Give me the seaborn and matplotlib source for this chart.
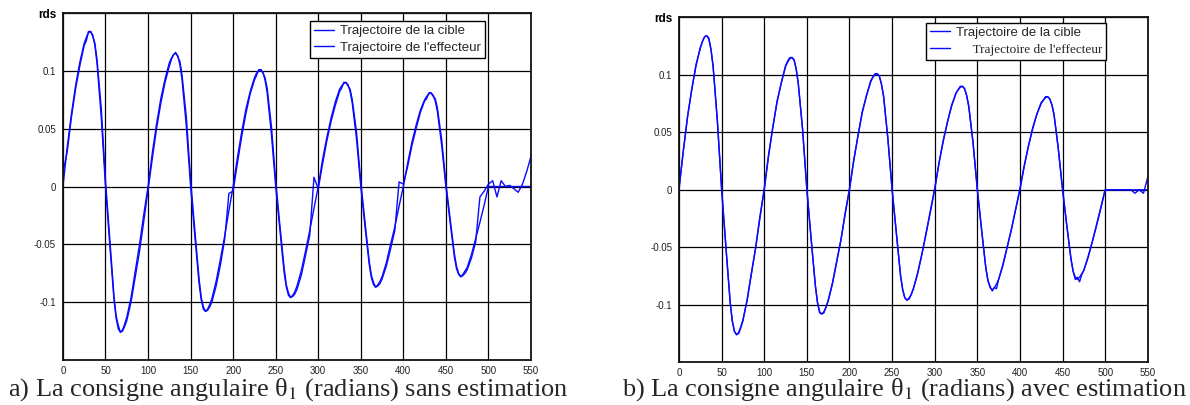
import matplotlib
matplotlib.use("Agg")
import matplotlib.pyplot as plt
import seaborn as sns
import pandas as pd

# ---------------- data ----------------
# sample offsets inside each 100-step oscillation cycle (extra samples near extrema)
cycle_offsets = [0, 5, 10, 15, 20, 25, 27.5, 30, 32.5, 35, 37.5, 40, 45,
                 50, 55, 60, 62.5, 65, 67.5, 70, 72.5, 75, 80, 85, 90, 95]
cycle_starts = [0, 100, 200, 300, 400]
tail_x = [500, 505, 510, 515, 520, 525, 530, 535, 540, 545, 550]
x_vals = [s + o for s in cycle_starts for o in cycle_offsets] + tail_x

target = [
    # 0-100
    0.000, 0.034, 0.063, 0.088, 0.108, 0.124, 0.129, 0.133, 0.134, 0.131, 0.122, 0.107, 0.060,
    0.000, -0.050, -0.098, -0.114, -0.123, -0.126, -0.124, -0.119, -0.113, -0.096, -0.073, -0.050, -0.024,
    # 100-200
    0.000, 0.029, 0.054, 0.076, 0.093, 0.107, 0.111, 0.114, 0.115, 0.113, 0.105, 0.092, 0.052,
    0.000, -0.043, -0.084, -0.098, -0.106, -0.108, -0.106, -0.102, -0.097, -0.082, -0.063, -0.043, -0.021,
    # 200-300
    0.000, 0.025, 0.047, 0.067, 0.082, 0.094, 0.098, 0.100, 0.101, 0.099, 0.092, 0.081, 0.045,
    0.000, -0.038, -0.075, -0.087, -0.094, -0.096, -0.094, -0.091, -0.086, -0.073, -0.056, -0.038, -0.019,
    # 300-400
    0.000, 0.023, 0.042, 0.059, 0.073, 0.084, 0.087, 0.089, 0.090, 0.088, 0.082, 0.072, 0.041,
    0.000, -0.035, -0.068, -0.079, -0.085, -0.087, -0.085, -0.082, -0.078, -0.066, -0.050, -0.035, -0.017,
    # 400-500
    0.000, 0.020, 0.038, 0.053, 0.066, 0.075, 0.078, 0.080, 0.081, 0.079, 0.074, 0.065, 0.036,
    0.000, -0.031, -0.061, -0.071, -0.076, -0.078, -0.076, -0.073, -0.070, -0.059, -0.045, -0.031, -0.016,
    # 500-550
    0.000, 0.000, 0.000, 0.000, 0.000, 0.000, 0.000, 0.000, 0.000, 0.000, 0.000,
]

effector_a = [
    0.012, 0.030, 0.060, 0.085, 0.105, 0.122, 0.126, 0.134, 0.134, 0.130, 0.124, 0.110, 0.068,
    0.005, -0.045, -0.095, -0.112, -0.120, -0.126, -0.125, -0.121, -0.116, -0.100, -0.078, -0.056, -0.030,
    -0.003, 0.024, 0.050, 0.072, 0.090, 0.104, 0.110, 0.114, 0.116, 0.112, 0.108, 0.096, 0.060,
    0.006, -0.038, -0.080, -0.096, -0.104, -0.108, -0.107, -0.104, -0.100, -0.086, -0.068, -0.046, -0.006,
    -0.004, 0.020, 0.043, 0.063, 0.080, 0.092, 0.096, 0.101, 0.101, 0.098, 0.094, 0.085, 0.052,
    0.005, -0.034, -0.071, -0.085, -0.092, -0.096, -0.095, -0.093, -0.089, -0.077, -0.060, -0.042, 0.008,
    -0.002, 0.019, 0.039, 0.056, 0.070, 0.082, 0.085, 0.090, 0.090, 0.087, 0.084, 0.075, 0.047,
    0.004, -0.031, -0.065, -0.077, -0.083, -0.087, -0.086, -0.084, -0.080, -0.069, -0.054, -0.038, 0.004,
    0.002, 0.017, 0.035, 0.050, 0.064, 0.074, 0.076, 0.081, 0.081, 0.078, 0.076, 0.068, 0.041,
    0.003, -0.028, -0.058, -0.069, -0.075, -0.078, -0.077, -0.075, -0.072, -0.062, -0.048, -0.009, -0.004,
    0.002, 0.005, -0.009, 0.005, 0.000, 0.001, -0.002, -0.005, 0.002, 0.013, 0.026,
]

effector_b = [
    0.002, 0.033, 0.064, 0.087, 0.109, 0.123, 0.129, 0.133, 0.134, 0.132, 0.122, 0.108, 0.060,
    0.001, -0.049, -0.097, -0.114, -0.123, -0.126, -0.125, -0.120, -0.114, -0.095, -0.072, -0.050, -0.023,
    0.001, 0.030, 0.054, 0.077, 0.093, 0.108, 0.112, 0.115, 0.115, 0.113, 0.105, 0.092, 0.053,
    0.001, -0.042, -0.083, -0.098, -0.107, -0.108, -0.107, -0.102, -0.096, -0.081, -0.062, -0.044, -0.020,
    0.001, 0.026, 0.047, 0.068, 0.082, 0.095, 0.098, 0.101, 0.101, 0.099, 0.092, 0.082, 0.045,
    0.001, -0.037, -0.075, -0.087, -0.094, -0.096, -0.095, -0.091, -0.086, -0.072, -0.056, -0.037, -0.018,
    0.001, 0.023, 0.043, 0.059, 0.074, 0.084, 0.087, 0.090, 0.090, 0.088, 0.082, 0.073, 0.041,
    0.001, -0.034, -0.068, -0.079, -0.084, -0.088, -0.085, -0.086, -0.078, -0.065, -0.050, -0.034, -0.017,
    0.001, 0.021, 0.038, 0.054, 0.066, 0.076, 0.078, 0.081, 0.081, 0.079, 0.074, 0.066, 0.036,
    0.001, -0.031, -0.060, -0.071, -0.078, -0.076, -0.080, -0.074, -0.070, -0.058, -0.045, -0.030, -0.015,
    0.000, 0.000, 0.000, 0.000, 0.000, 0.000, 0.000, -0.003, 0.000, -0.003, 0.011,
]

x_ticks = list(range(0, 551, 50))
x_tick_labels = [str(v) for v in x_ticks]
y_ticks = [-0.1, -0.05, 0, 0.05, 0.1, 0.15]
y_tick_labels = ["-0.1", "-0.05", "0", "0.05", "0.1", "rds"]

label_target = "Trajectoire de la cible"
label_effector = "Trajectoire de l'effecteur"
caption_a = "a) La consigne angulaire θ$_1$ (radians) sans estimation"
caption_b = "b) La consigne angulaire θ$_1$ (radians) avec estimation"

# ---------------- style ----------------
sns.set_style("white")
plt.rcParams["font.family"] = ["Liberation Sans", "DejaVu Sans"]
plt.rcParams["mathtext.fontset"] = "stix"

BLUE = "#0a0aff"

fig = plt.figure(figsize=(11.9, 4.05), dpi=100)
ax_a = fig.add_axes([0.0529, 0.1111, 0.3933, 0.8568])
ax_b = fig.add_axes([0.5706, 0.1054, 0.3939, 0.8519])

df_a = pd.DataFrame({"x": x_vals, "target": target, "eff": effector_a})
df_b = pd.DataFrame({"x": x_vals, "target": target, "eff": effector_b})


def style_axes(ax):
    ax.set_xlim(0, 550)
    ax.set_ylim(-0.15, 0.15)
    ax.set_xticks(x_ticks)
    ax.set_xticklabels(x_tick_labels)
    ax.set_yticks(y_ticks)
    ax.set_yticklabels(y_tick_labels)
    ax.tick_params(axis="both", length=0, labelsize=7, colors="#222222")
    ax.tick_params(axis="y", pad=5)
    ax.tick_params(axis="x", pad=4)
    lbl = ax.get_yticklabels()[-1]
    lbl.set_fontweight("bold")
    lbl.set_fontsize(8.5)
    lbl.set_color("black")
    ax.grid(True, color="black", linewidth=0.9)
    for sp in ax.spines.values():
        sp.set_color("#111111")
        sp.set_linewidth(1.3)
    ax.set_xlabel("")
    ax.set_ylabel("")


def make_legend(ax, anchor):
    leg = ax.legend(loc="upper left", bbox_to_anchor=anchor,
                    fontsize=9.5, frameon=True, fancybox=False, edgecolor="black",
                    framealpha=1, handlelength=1.5, handletextpad=0.45,
                    labelspacing=0.35, borderpad=0.3, borderaxespad=0)
    leg.get_frame().set_linewidth(1.0)
    return leg


# panel a
sns.lineplot(data=df_a, x="x", y="target", ax=ax_a, color=BLUE, linewidth=1.0,
             label=label_target)
sns.lineplot(data=df_a, x="x", y="eff", ax=ax_a, color=BLUE, linewidth=1.0,
             label=label_effector)
style_axes(ax_a)
make_legend(ax_a, (0.528, 0.977))

# panel b
sns.lineplot(data=df_b, x="x", y="target", ax=ax_b, color=BLUE, linewidth=1.0,
             label=label_target)
sns.lineplot(data=df_b, x="x", y="eff", ax=ax_b, color=BLUE, linewidth=1.0,
             label="     " + label_effector)
style_axes(ax_b)
leg_b = make_legend(ax_b, (0.527, 0.984))
t2 = leg_b.get_texts()[1]
t2.set_fontfamily("Liberation Serif")
t2.set_fontsize(9.5)

# captions
fig.text(0.242, 0.038, caption_a, ha="center", va="center",
         fontfamily="Liberation Serif", fontsize=19)
fig.text(0.760, 0.038, caption_b, ha="center", va="center",
         fontfamily="Liberation Serif", fontsize=19)

fig.savefig("out.png", dpi=100)
